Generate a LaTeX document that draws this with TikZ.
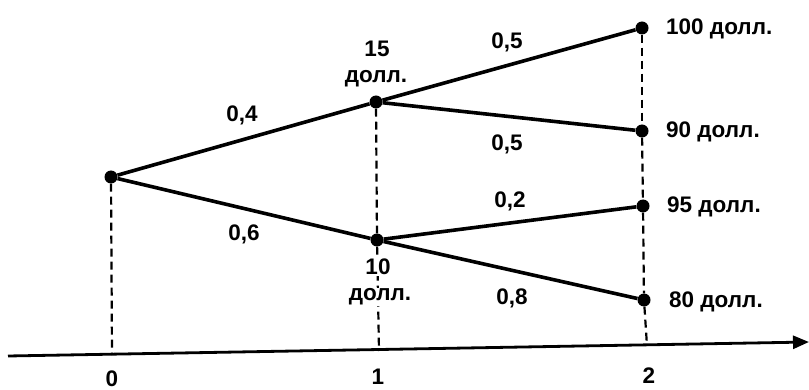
\documentclass[tikz,border=0pt]{standalone}
\usepackage{fontspec}
\setmainfont{Liberation Sans}
\usetikzlibrary{arrows.meta}
\begin{document}
\begin{tikzpicture}[x=1pt,y=-1pt,
  every node/.style={font=\fontsize{22.5}{26}\selectfont\bfseries},
  dot/.style={circle,fill=black,inner sep=0pt,minimum size=13pt},
  branch/.style={line width=3.6pt},
  guide/.style={line width=2.2pt,dash pattern=on 8pt off 5pt},
  lbl/.style={inner sep=1pt}]
\useasboundingbox (0,0) rectangle (809,390);
% nodes
\node[dot] (r) at (111,177) {};
\node[dot] (a) at (376,102) {};
\node[dot] (b) at (377,240) {};
\node[dot] (c1) at (642,28) {};
\node[dot] (c2) at (642,131) {};
\node[dot] (c3) at (643,206) {};
\node[dot] (c4) at (644,300) {};
% axis
\coordinate (ax0) at (8,356);
\coordinate (ax1) at (809,342);
\coordinate (f0) at (112,355);
\coordinate (f1) at (379,351);
\coordinate (f2) at (647,346);
\draw[line width=2.8pt,-{Triangle[length=16pt,width=13pt]}] (ax0) -- (ax1);
% guides
\draw[guide] (r) -- (f0);
\draw[guide] (a) -- (b);
\draw[guide] (b) -- (f1);
\draw[guide] (c1) -- (c2);
\draw[guide] (c2) -- (c3);
\draw[guide] (c3) -- (c4);
\draw[guide] (c4) -- (f2);
% branches
\draw[branch] (r) -- (a);
\draw[branch] (r) -- (b);
\draw[branch] (a) -- (c1);
\draw[branch] (a) -- (c2);
\draw[branch] (b) -- (c3);
\draw[branch] (b) -- (c4);
% labels
\node[lbl] (p1) at (242,115) {0,4};
\node[lbl] (p2) at (244,234) {0,6};
\node[lbl] (p3) at (507,42) {0,5};
\node[lbl] (p4) at (507,144) {0,5};
\node[lbl] (p5) at (510,201) {0,2};
\node[lbl] (p6) at (512,298) {0,8};
\node[lbl] (ta1) at (377,49) {15};
\node[lbl] (ta2) at (376,79) {долл.};
\node[lbl,fill=white] (tb1) at (378,267) {10};
\node[lbl,fill=white] (tb2) at (380,297) {долл.};
\node[lbl,anchor=west] (t1) at (665,29) {100 долл.};
\node[lbl,anchor=west] (t2) at (665,132) {90 долл.};
\node[lbl,anchor=west] (t3) at (666,207) {95 долл.};
\node[lbl,anchor=west] (t4) at (668,302) {80 долл.};
\node[lbl] (x0) at (112,379) {0};
\node[lbl] (x1) at (378,377) {1};
\node[lbl] (x2) at (649,376) {2};
\end{tikzpicture}
\end{document}
